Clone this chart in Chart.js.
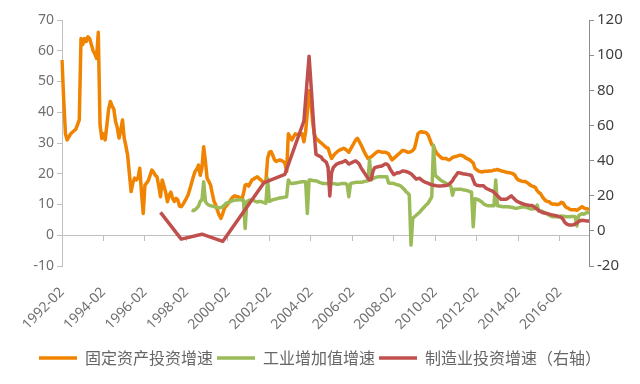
<!DOCTYPE html>
<html>
<head>
<meta charset="utf-8">
<script src="https://cdn.jsdelivr.net/npm/chart.js@4/dist/chart.umd.min.js"></script>
<style>
  html, body { margin: 0; background: #fff; }
  #wrap { width: 640px; height: 384px; }
</style>
</head>
<body>
<div id="wrap"><canvas id="chart"></canvas></div>
<script>
// Monthly categories 1992-02 .. 2017-07
const months = [];
for (let k = 0; k < 306; k++) {
  const t = 1992 * 12 + 1 + k;
  months.push(`${Math.floor(t / 12)}-${String(t % 12 + 1).padStart(2, '0')}`);
}

// 固定资产投资增速 (left axis, %)
const faiGrowth = [
  57, 44, 33, 31, 32, 33, 33.5, 34, 34.5, 36, 37.5,                 // 1992 Feb-Dec
  64, 62, 64, 63, 64.5, 64, 62, 60, 59, 57.5, 66, 36,               // 1993
  31.5, 33, 31, 36, 41, 43.5, 42, 41, 37, 35, 31.6, 34,             // 1994
  37.5, 31.6, 29, 26, 20, 14.2, 17, 18.6, 18, 18.6, 21.8, 14,       // 1995
  7.1, 16.3, 17, 17.8, 19.5, 21.2, 20.5, 19.5, 19, 16, 12.5, 18,    // 1996
  16, 14, 10.9, 13, 14, 12, 11, 12, 11.5, 9.5, 9.3, 10,             // 1997
  11, 12, 13.2, 15, 17, 19, 20.7, 21.5, 22.8, 19.5, 22, 28.8,       // 1998
  24, 18.5, 17.5, 16.3, 13.5, 11, 9.8, 8, 6.5, 5.5, 7, 8.8,         // 1999
  9.5, 10.2, 11, 11.8, 12.5, 12.8, 12.6, 12.5, 12.2, 11.5, 13.5, 16.3, // 2000
  16.5, 16, 17, 18, 18.3, 18.7, 19, 18.5, 18, 17.5, 17.2, 17.5,     // 2001
  25, 27, 27.2, 26, 24.5, 24, 24.3, 24.5, 24.3, 24, 23.5, 20.7,     // 2002
  33, 32, 31, 32, 33, 32.8, 32.5, 32.8, 33, 30.4, 33.7, 40,         // 2003
  47, 44, 37, 33, 31.5, 31, 30.5, 30, 29.5, 29, 28.5, 28.3,         // 2004
  26.5, 25, 25.8, 26.5, 27, 27.5, 27.8, 28, 28.3, 28, 27.5, 27,     // 2005
  28, 29, 30, 31, 31.5, 30.5, 29.5, 28.3, 27, 26, 25, 25.3,         // 2006
  25.5, 26, 26.5, 27, 27.3, 27.2, 27, 27, 27, 26.8, 26.5, 25.5,     // 2007
  24.5, 25, 25.5, 26, 26.5, 27, 27.6, 27.5, 27.3, 27, 27, 27.2,     // 2008
  27.6, 28.3, 30.5, 33, 33.5, 33.7, 33.5, 33.5, 33.2, 32.5, 31, 29.5, // 2009
  29, 27.5, 26.6, 26, 25.5, 25, 25, 25, 24.7, 24.5, 24.8, 25.3,     // 2010
  25.5, 25.6, 25.8, 26, 26, 25.8, 25.5, 25, 24.8, 24.5, 24, 23.5,   // 2011
  21.8, 21.3, 20.9, 20.7, 20.6, 20.7, 20.8, 20.8, 20.9, 20.9, 21, 21.2, // 2012
  21.2, 21.4, 21.2, 21, 20.8, 20.7, 20.5, 20.4, 20.3, 20.2, 20, 19.6, // 2013
  18.6, 18, 17.8, 17.6, 17.5, 17.5, 17.2, 16.8, 16.3, 16, 15.8, 15.5, // 2014
  14.5, 13.9, 13.5, 12.5, 11.8, 11.2, 11, 10.9, 10.3, 10.1, 10.2, 10, // 2015
  10, 10.2, 10.7, 10.5, 9.6, 9, 8.8, 8.4, 8.3, 8.3, 8.3, 8.1,       // 2016
  8.5, 8.9, 9.3, 8.9, 8.6, 8.6, 8.3                                 // 2017 Jan-Jul
];

// 工业增加值增速 (left axis, %)
const ipGrowth = [
  ...Array(71).fill(null),                                          // 1992-1997
  null, null, null, null, 8.2, 8, 8.3, 8.8, 9.5, 11, 11.5, 17.4,    // 1998
  11, 10.2, 9.8, 9.6, 9.5, 9.3, 9.2, 9, 8.9, 9, 9.3, 9.8,           // 1999
  10.4, 10.6, 10.8, 11.1, 11.3, 11.4, 11.5, 11.5, 11.6, 11.5, 11.5, 2.2, // 2000
  11, 11.3, 11.5, 11.6, 11.3, 11, 10.8, 11, 11, 10.8, 10.6, 10.4,   // 2001
  18.5, 11, 11.3, 11.5, 11.7, 11.8, 12, 12.1, 12.2, 12.3, 12.4, 12.5, // 2002
  18, 17, 16.8, 16.9, 17, 17.1, 17.2, 17.3, 17.4, 17.4, 17.4, 7.1,  // 2003
  18, 18, 17.8, 17.7, 17.7, 17.5, 17.2, 17, 16.8, 16.8, 16.8, 16.7, // 2004
  16.7, 16.8, 16.8, 16.7, 16.6, 16.6, 16.7, 16.8, 16.8, 16.8, 16.5, 12.5, // 2005
  16.8, 17, 17.1, 17.2, 17.2, 17.2, 17.2, 17.3, 17.5, 17.6, 17.7, 24.5, // 2006
  18, 18.5, 18.7, 18.9, 19, 19, 19, 19, 19, 19, 17, 16.9,           // 2007
  16.9, 16.8, 16.6, 16.4, 16.3, 16, 15.5, 15, 14.2, 13.8, 13.1, -3.2, // 2008
  5.5, 6, 6.5, 7, 7.5, 8.2, 8.8, 9.4, 10, 10.5, 11.5, 12.5,         // 2009
  29.3, 19.5, 19, 18.5, 18, 17.6, 17.3, 17, 16.6, 16.3, 16, 13,     // 2010
  15, 15, 15, 15, 15, 14.8, 14.7, 14.6, 14.4, 14.2, 14, 2.8,        // 2011
  11.9, 11.7, 11.5, 11.2, 10.8, 10.2, 9.9, 9.7, 9.6, 9.6, 9.6, 9.6, // 2012
  18, 9.6, 9.5, 9.4, 9.3, 9.3, 9.3, 9.3, 9.2, 9.1, 9, 8.8,          // 2013
  8.8, 8.9, 9, 9.2, 9.3, 9.2, 9, 8.8, 8.6, 8.5, 8.6, 8.8,           // 2014
  9.8, 7.8, 7.8, 7.8, 7.5, 7.2, 6.8, 6.5, 6.2, 6, 6, 6,             // 2015
  6, 6.1, 6.3, 6.2, 6.1, 6, 6, 6, 6.1, 6.1, 6, 3,                   // 2016
  6.3, 6.8, 7, 6.8, 7.2, 7.4, 7.2                                   // 2017 Jan-Jul
];

// 制造业投资增速 (right axis, %) - yearly points before 2004, monthly after
const N = null;
const mfgGrowth = [
  ...Array(47).fill(null),                                          // 1992-1995
  N, N, N, N, N, N, N, N, N, N, 10.5, N,                            // 1996
  N, N, N, N, N, N, N, N, N, N, -4.7, N,                            // 1997
  N, N, N, N, N, N, N, N, N, N, -1.9, N,                            // 1998
  N, N, N, N, N, N, N, N, N, N, -6, N,                              // 1999
  N, N, N, N, N, N, N, N, N, N, N, N,                               // 2000
  N, N, N, N, N, N, N, N, N, N, 27.5, N,                            // 2001
  N, N, N, N, N, N, N, N, N, N, 32.2, N,                            // 2002
  N, N, N, N, N, N, N, N, N, 62.5, N, N,                            // 2003
  99.4, 85, 70, 55, 43.6, 43, 42.5, 42, 40.5, 39.8, 39, 36,         // 2004
  19.9, 33, 36, 37, 38, 38.5, 38.8, 39, 39.5, 40, 39, 38,           // 2005
  38.5, 39, 39.5, 39.8, 39, 38, 36, 34.5, 33, 31.5, 30, 29,         // 2006
  29.4, 34, 36, 36.3, 36.5, 36.8, 36.8, 37.5, 38, 38, 37, 35,       // 2007
  33.5, 32, 32.5, 33, 33, 33.5, 34, 34, 33.8, 33.5, 33, 32.5,       // 2008
  31.5, 30.5, 29.4, 29.7, 30, 29, 28.3, 27.8, 27.4, 27, 26.5, 26.2, // 2009
  26, 25.8, 25.6, 25.5, 25.5, 25.6, 25.6, 25.8, 26, 26.5, 27.5, 28.5, // 2010
  30.3, 31.5, 33, 33, 32.8, 32.5, 32.3, 32.2, 32, 31.8, 31.5, 29,   // 2011
  26.5, 26, 25.8, 25.6, 25.6, 25.6, 24.6, 24, 23.5, 23, 22.7, 22,   // 2012
  21, 20, 19, 18, 18, 18, 18, 18.5, 19.2, 19.9, 19, 18,             // 2013
  17, 16.5, 16, 15.7, 15.3, 15, 14.8, 14.6, 14.5, 14.4, 13.8, 13,   // 2014
  12.3, 11.6, 11, 10.4, 10.2, 10, 9.8, 9.5, 9.2, 9, 8.8, 8.6,       // 2015
  8.3, 8, 7.6, 6.5, 4.8, 4, 3.5, 3.3, 3.3, 3.5, 4, 4.5,             // 2016
  5.3, 5.8, 6, 5.9, 5.7, 5.6, 5.6                                   // 2017 Jan-Jul
];

const seriesNames = ['固定资产投资增速', '工业增加值增速', '制造业投资增速（右轴）'];
const seriesColors = ['#F08300', '#9BBB59', '#C0504D'];

const PLOT_BOTTOM = 266;
const everyTwoYears = s => { s.ticks = s.ticks.filter(t => t.value % 24 === 0); };
const tickFont = { family: 'Noto Sans', size: 14 };

const line = (i, data, yAxisID, order) => ({
  label: seriesNames[i], data, yAxisID, xAxisID: 'x', order,
  borderColor: seriesColors[i], backgroundColor: seriesColors[i],
  borderWidth: 3.5, borderJoinStyle: 'round', pointRadius: 0,
  tension: 0, spanGaps: true,
});

new Chart(document.getElementById('chart'), {
  type: 'line',
  data: {
    labels: months,
    datasets: [
      line(0, faiGrowth, 'yL', 3),
      line(1, ipGrowth, 'yL', 2),
      line(2, mfgGrowth, 'yR', 1),
    ],
  },
  options: {
    responsive: true, maintainAspectRatio: false, animation: false,
    layout: { padding: { top: 20, bottom: 8, left: 0, right: 0 } },
    plugins: {
      tooltip: { enabled: false },
      legend: {
        position: 'bottom',
        labels: {
          usePointStyle: true, pointStyle: 'line', pointStyleWidth: 38,
          padding: 4, color: '#666',
          font: { family: 'Noto Sans CJK SC', size: 16 },
          sort: (a, b) => a.datasetIndex - b.datasetIndex,
        },
      },
    },
    scales: {
      x: {
        type: 'category', position: 'bottom', offset: false,
        grid: { display: false, drawTicks: false },
        border: { display: false },
        ticks: { autoSkip: false, minRotation: 45, maxRotation: 45, padding: 18, color: '#707070', font: tickFont },
        afterBuildTicks: everyTwoYears,
        afterFit: s => { s.height = s.chart.height - 8 - s.chart.legend.height - PLOT_BOTTOM; },
      },
      x0: {
        type: 'category', position: { yL: 0 }, offset: false,
        grid: { drawOnChartArea: false, drawTicks: true, tickLength: 5, color: '#bfbfbf' },
        border: { color: '#bfbfbf' },
        ticks: { display: false, autoSkip: false },
        afterBuildTicks: everyTwoYears,
      },
      yL: {
        position: 'left', min: -10, max: 70,
        ticks: { stepSize: 10, padding: 3, color: '#707070', font: tickFont },
        grid: { drawOnChartArea: false, tickLength: 5, color: '#bfbfbf' },
        border: { color: '#bfbfbf' },
        afterFit: s => { s.width = 62; },
      },
      yR: {
        position: 'right', min: -20, max: 120,
        ticks: { stepSize: 20, padding: 3, color: '#404040', font: { family: 'Noto Sans', size: 15 } },
        grid: { drawOnChartArea: false, tickLength: 5, color: '#8c8c8c' },
        border: { color: '#8c8c8c' },
        afterFit: s => { s.width = 51; },
      },
    },
  },
});
</script>
</body>
</html>
